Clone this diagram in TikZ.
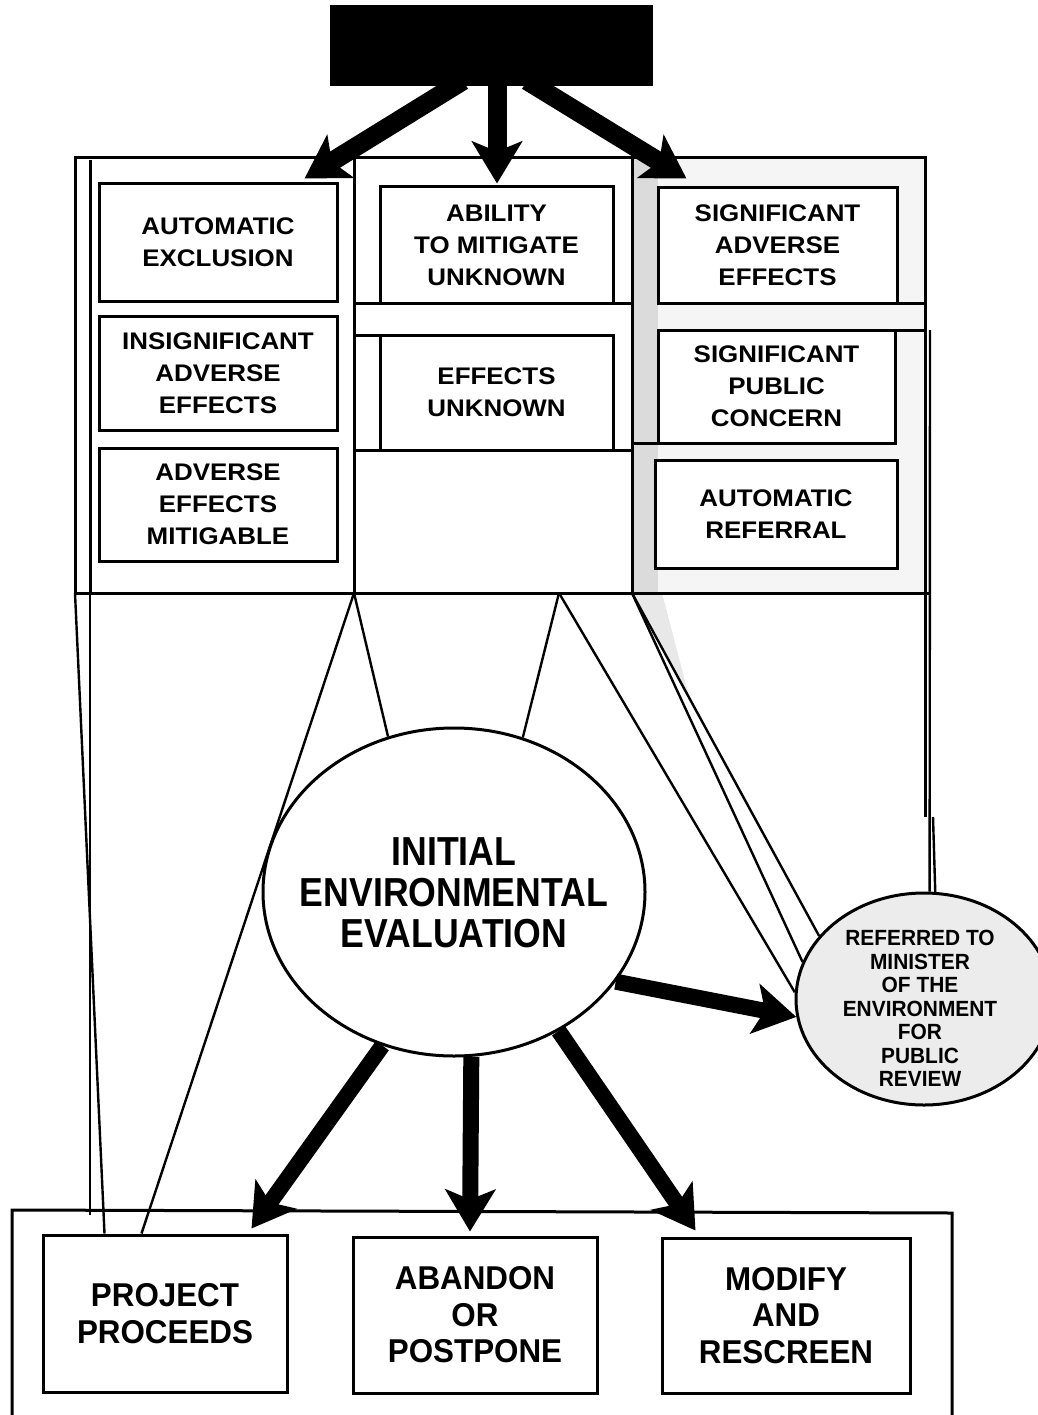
\documentclass[tikz,border=0pt]{standalone}
\usepackage{fontspec}
\setmainfont{Liberation Sans}
\newfontfamily\fwide[FakeStretch=1.08]{Liberation Sans}
\newfontfamily\fmid[FakeStretch=0.95]{Liberation Sans}
\newfontfamily\fnarrow[FakeStretch=0.88]{Liberation Sans}
\usetikzlibrary{shapes.geometric,arrows.meta,backgrounds}
\begin{document}
\begin{tikzpicture}[x=1pt,y=-1pt,
 box/.style={draw,line width=3pt,fill=white,inner sep=0pt,align=center,
   font=\fwide\bfseries\fontsize{24}{32}\selectfont},
 bigbox/.style={box,font=\fmid\bfseries\fontsize{33}{36.5}\selectfont},
 frameline/.style={line width=3pt},
 thinline/.style={line width=2.4pt},
 fat/.style={line width=16pt,-{Stealth[length=42pt,width=50pt,inset=10pt]}},
 fatter/.style={fat,line width=19pt},
]
\useasboundingbox (0,0) rectangle (1037,1415);

% top black box
\node[fill=black,minimum width=323pt,minimum height=81pt,inner sep=0pt] (top) at (491.5,46) {};

% left column
\node[box,minimum width=238pt,minimum height=117pt] (ae) at (218,242.5) {AUTOMATIC\\EXCLUSION};
\node[box,minimum width=238pt,minimum height=114pt] (ia) at (218,373) {INSIGNIFICANT\\ADVERSE\\EFFECTS};
\node[box,minimum width=238pt,minimum height=113pt] (am) at (218,504.5) {ADVERSE\\EFFECTS\\MITIGABLE};
% middle column
\node[box,minimum width=233pt,minimum height=116pt] (ab) at (496.5,245) {ABILITY\\TO MITIGATE\\UNKNOWN};
\node[box,minimum width=233pt,minimum height=115pt] (eu) at (496.5,392.5) {EFFECTS\\UNKNOWN};
% right column
\node[box,minimum width=239pt,minimum height=115pt] (sa) at (777.5,245.5) {SIGNIFICANT\\ADVERSE\\EFFECTS};
\node[box,minimum width=237pt,minimum height=113pt] (sp) at (776.5,386.5) {SIGNIFICANT\\PUBLIC\\CONCERN};
\node[box,minimum width=242pt,minimum height=108pt] (ar) at (776,514) {AUTOMATIC\\REFERRAL};

% central ellipse
\node[ellipse,draw,line width=3pt,fill=white,minimum width=382pt,minimum height=328pt,inner sep=0pt] (iee) at (454,892) {};
\node[align=center,inner sep=0pt,font=\fnarrow\bfseries\fontsize{40.5}{41}\selectfont] (ieet) at (454,892.5) {INITIAL\\ENVIRONMENTAL\\EVALUATION};

% referred circle
\node[ellipse,draw,line width=3pt,fill=gray!15,minimum width=256pt,minimum height=212pt,inner sep=0pt] (ref) at (924,999) {};
\node[align=center,inner sep=0pt,font=\fmid\bfseries\fontsize{22}{23.5}\selectfont] (reft) at (920,1008.5) {REFERRED TO\\MINISTER\\OF THE\\ENVIRONMENT\\FOR\\PUBLIC\\REVIEW};

% bottom boxes
\node[bigbox,minimum width=244pt,minimum height=157pt] (pp) at (165,1313.5) {PROJECT\\PROCEEDS};
\node[bigbox,minimum width=244pt,minimum height=156pt] (ap) at (475,1315) {ABANDON\\OR\\POSTPONE};
\node[bigbox,minimum width=248pt,minimum height=155pt] (mr) at (786,1315.5) {MODIFY\\AND\\RESCREEN};

% apex coordinates
\coordinate (c1) at (75,593);
\coordinate (c2) at (90,593);
\coordinate (c3) at (354,593);
\coordinate (c4) at (559,593);
\coordinate (c5) at (632,593);
\coordinate (c6) at (933,817);
\coordinate (c7) at (90,1215);
\coordinate (c8) at (930,330);

\begin{pgfonlayer}{background}
 % shading of right column
 \fill[gray!8] (632,158) rectangle (925,593);
 \fill[gray!28] (632,158) rectangle (658,593);
 \fill[gray!18] (632,593) -- (662,593) -- (690,700) -- cycle;
 % frame of the three columns
 \draw[frameline] (75,593) -- (75,158) -- (925,158) -- (925,817);
 \draw[frameline] (90,160) -- (90,593);
 \draw[frameline] (354,158) -- (354,593);
 \draw[frameline] (632,158) -- (632,593);
 \draw[frameline] (75,593) -- (930,593);
 \draw[frameline] (354,303) -- (632,303);
 \draw[frameline] (354,335) -- (613,335);
 \draw[frameline] (354,450) -- (632,450);
 \draw[frameline] (658,303) -- (925,303);
 \draw[frameline] (658,330) -- (925,330);
 \draw[frameline] (632,443) -- (895,443);
 % bottom frame
 \draw[frameline] (12,1415) -- (12,1210) -- (952,1213) -- (952,1415);
 % thin connectors
 \draw[thinline] (c1) -- ([xshift=63pt]pp.north west);
 \draw[thinline] (c2) -- (c7);
 \draw[thinline] (c3) -- ([xshift=100pt]pp.north west);
 \draw[thinline] (c3) -- (iee.113.7);
 \draw[thinline] (c4) -- (iee.66.3);
 \draw[thinline] (c4) -- (ref.177);
 \draw[thinline] (c5) -- (ref.163.6);
 \draw[thinline] (c5) -- (ref.149);
 \draw[thinline] (c6) -- (ref.84);
 \draw[thinline] (c8) -- (ref.87);
\end{pgfonlayer}

% thick arrows from the top box
\draw[fatter] ([xshift=-28.5pt,yshift=6pt]top.south) -- ([xshift=-34pt,yshift=4pt]ae.north east);
\draw[fatter] ([xshift=5.5pt,yshift=6pt]top.south) -- ([xshift=0.5pt,yshift=2pt]ab.north);
\draw[fatter] ([xshift=35.5pt,yshift=6pt]top.south) -- ([xshift=30pt,yshift=8pt]sa.north west);

% thick arrows from the evaluation
\draw[fat] (iee.-115) -- ([xshift=210pt,yshift=5pt]pp.north west);
\draw[fat] (iee.-84) -- ([xshift=-5pt,yshift=4pt]ap.north);
\draw[fat] (iee.-53) -- ([xshift=35pt,yshift=6pt]mr.north west);
\draw[fat] (iee.-29) -- (ref.188.5);
\end{tikzpicture}
\end{document}
